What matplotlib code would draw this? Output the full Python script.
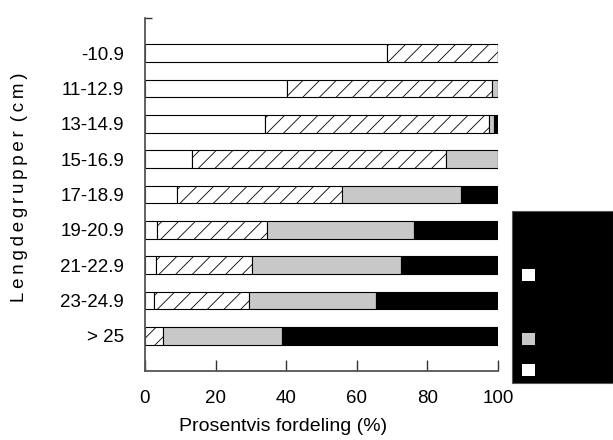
import matplotlib
matplotlib.use("Agg")
import matplotlib.pyplot as plt
from matplotlib.patches import Rectangle
import numpy as np

plt.rcParams['font.family'] = ['Liberation Sans', 'DejaVu Sans']
plt.rcParams['hatch.linewidth'] = 0.6

# Length groups and percentage distribution across four classes
groups = ["-10.9", "11-12.9", "13-14.9", "15-16.9", "17-18.9",
          "19-20.9", "21-22.9", "23-24.9", "> 25"]
white_pct = [68.6, 40.2, 34.1, 13.4, 9.2, 3.5, 3.0, 2.6, 0.0]
hatched_pct = [31.4, 58.2, 63.4, 71.8, 46.5, 31.2, 27.2, 27.0, 5.0]
grey_pct = [0.0, 1.6, 1.4, 14.8, 33.8, 41.5, 42.2, 35.8, 33.9]
black_pct = [0.0, 0.0, 1.1, 0.0, 10.5, 23.8, 27.6, 34.6, 61.1]
xticks = [0, 20, 40, 60, 80, 100]

fig = plt.figure(figsize=(6.13, 4.40), dpi=100)
ax = fig.add_axes([145 / 613, 1 - 371 / 440, 353 / 613, 353 / 440])

pos = np.arange(1, len(groups) + 1)
h = 0.5
left = np.zeros(len(groups))
styles = [
    (white_pct, dict(color="white", hatch=None)),
    (hatched_pct, dict(color="white", hatch="//")),
    (grey_pct, dict(color="#c8c8c8", hatch=None)),
    (black_pct, dict(color="black", hatch=None)),
]
for vals, st in styles:
    vals = np.asarray(vals)
    ax.barh(pos, vals, left=left, height=h, color=st["color"],
            hatch=st["hatch"], edgecolor="black", linewidth=0.8, zorder=2)
    left += vals

ax.set_xlim(0, 100)
ax.set_ylim(10, 0)
ax.set_yticks(pos)
ax.set_yticklabels(groups)
ax.set_yticks([0], minor=True)
ax.set_xticks(xticks)
ax.set_xticklabels([str(t) for t in xticks])

for s in ["top", "right"]:
    ax.spines[s].set_visible(False)
for s in ["left", "bottom"]:
    ax.spines[s].set_color("#555555")
    ax.spines[s].set_linewidth(1.3)

ax.tick_params(axis="y", which="both", direction="in", length=5, width=1,
               color="#333333", pad=15, labelsize=13.5)
ax.tick_params(axis="x", direction="in", length=8, width=1,
               color="#333333", pad=14, labelsize=13.5)

fig.text(283 / 613, 1 - 426 / 440, "Prosentvis fordeling (%)", fontsize=14,
         ha="center", va="center")
thin = "\u2009"
ylab = thin.join("Lengdegrupper") + thin + " " + thin.join("(cm)")
fig.text(20 / 613, 1 - 187 / 440, ylab,
         fontsize=13.5, rotation=90, ha="center", va="center")

# Legend panel
fig.add_artist(Rectangle((512 / 613, 1 - 383 / 440), 101 / 613, 172 / 440,
                         transform=fig.transFigure, facecolor="black",
                         edgecolor="#555555", linewidth=0.8))
for yc, col in [(275, "white"), (305, "black"), (339, "#c8c8c8"), (370, "white")]:
    fig.add_artist(Rectangle((522 / 613, 1 - (yc + 6) / 440), 13 / 613, 12 / 440,
                             transform=fig.transFigure, facecolor=col,
                             edgecolor="none"))

fig.savefig("out.png", dpi=100)
